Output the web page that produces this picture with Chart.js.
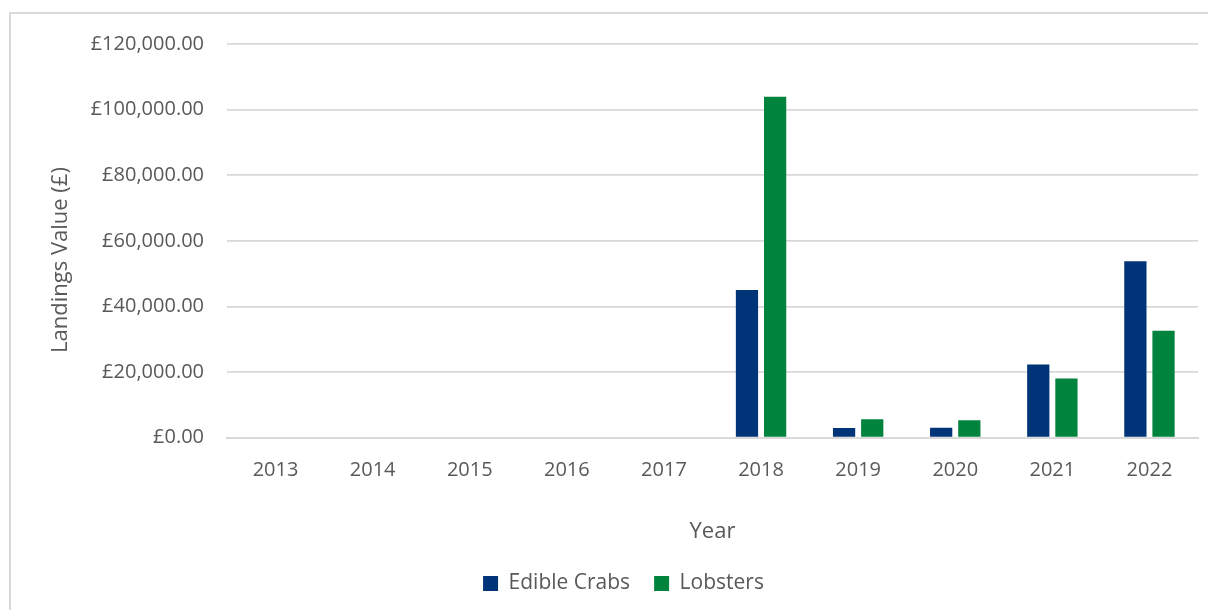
<!DOCTYPE html>
<html>
<head>
<meta charset="utf-8">
<script src="https://cdn.jsdelivr.net/npm/chart.js@4/dist/chart.umd.min.js"></script>
<style>
  html, body { margin: 0; padding: 0; background: #fff; }
  #wrap { position: relative; width: 1208px; height: 610px; overflow: hidden; }
  #frame { position: absolute; left: 9px; top: 12px; width: 1300px; height: 700px;
           border-top: 2px solid #d9d9d9; border-left: 2px solid #d9d9d9; }
  #landingsChart { position: absolute; left: 0; top: 0; }
</style>
</head>
<body>
<div id="wrap">
  <div id="frame"></div>
  <canvas id="landingsChart" width="1208" height="610"></canvas>
</div>
<script>
// --- data ---
const years = ["2013", "2014", "2015", "2016", "2017", "2018", "2019", "2020", "2021", "2022"];
const edibleCrabs = [0, 0, 0, 0, 0, 45000, 2900, 3000, 22300, 53800];
const lobsters = [0, 0, 0, 0, 0, 103900, 5600, 5300, 18000, 32600];
const yTicks = [0, 20000, 40000, 60000, 80000, 100000, 120000];

const FONT = "'Open Sans', 'Noto Sans', sans-serif";
const GREY = "#595959";

function pounds(v) {
  const s = Math.round(v).toString().replace(/\B(?=(\d{3})+(?!\d))/g, ",");
  return "£" + s + ".00";
}

// y axis title sits a little below the centre of the axis in the original,
// so it is drawn by hand instead of by the scale
const yTitle = {
  id: "yTitle",
  afterDraw(chart) {
    const c = chart.ctx;
    c.save();
    c.translate(61, 260);
    c.rotate(-Math.PI / 2);
    c.font = "22px " + FONT;
    c.fillStyle = GREY;
    c.textAlign = "center";
    c.textBaseline = "middle";
    c.fillText("Landings Value (£)", 0, 0);
    c.restore();
  },
};

document.addEventListener("DOMContentLoaded", function () {
  const ctx = document.getElementById("landingsChart").getContext("2d");
  new Chart(ctx, {
    type: "bar",
    data: {
      labels: years,
      datasets: [
        { label: "Edible Crabs", data: edibleCrabs, backgroundColor: "#003478" },
        { label: "Lobsters", data: lobsters, backgroundColor: "#00843d" },
      ],
    },
    options: {
      responsive: false,
      animation: false,
      categoryPercentage: 0.58,
      barPercentage: 0.79,
      layout: { padding: { left: 49, right: 10, top: 44, bottom: 6 } },
      scales: {
        x: {
          grid: { display: false, drawTicks: false },
          border: { color: "#d9d9d9", width: 2 },
          ticks: { color: GREY, font: { family: FONT, size: 20 }, padding: 21 },
          title: {
            display: true, text: "Year", color: GREY,
            font: { family: FONT, size: 22 }, padding: { top: 15, bottom: 4 },
          },
        },
        y: {
          min: 0,
          max: 120000,
          afterBuildTicks: (axis) => { axis.ticks = yTicks.map((v) => ({ value: v })); },
          afterFit: (axis) => { axis.width = 178; },
          grid: { color: "#d9d9d9", lineWidth: 1.7, drawTicks: false },
          border: { display: false },
          ticks: {
            color: GREY, font: { family: FONT, size: 20 }, padding: 23,
            callback: (v) => pounds(v),
          },
        },
      },
      plugins: {
        legend: {
          position: "bottom",
          labels: {
            color: GREY, font: { family: FONT, size: 21 },
            boxWidth: 15, boxHeight: 15, padding: 24,
          },
        },
        tooltip: { enabled: false },
      },
    },
    plugins: [yTitle],
  });
});
</script>
</body>
</html>
